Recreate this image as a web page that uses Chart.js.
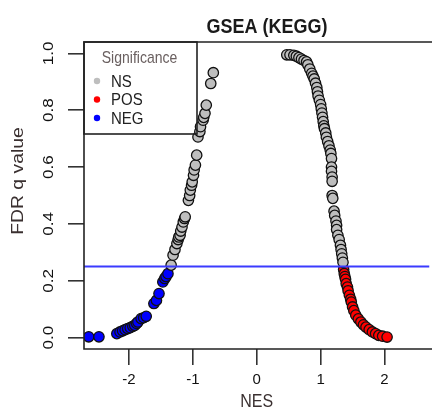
<!DOCTYPE html>
<html>
<head>
<meta charset="utf-8">
<script src="https://cdn.jsdelivr.net/npm/chart.js@4"></script>
<style>
  html, body { margin: 0; padding: 0; background: #fff; overflow: hidden; width: 432px; height: 411px; }
  canvas { display: block; }
</style>
</head>
<body>
<canvas id="chart" width="436" height="411"></canvas>
<script>
// ---- data ----
const xTicks = [-2, -1, 0, 1, 2]
const yTicks = [0.0, 0.2, 0.4, 0.6, 0.8, 1.0]
const fdrCutoff = 0.25
const xRange = [-2.704, 2.704]
const yRange = [-0.04, 1.04]

const legendLabels = ["NS", "POS", "NEG"]

const nsNes = [
  -1.34, -1.31, -1.28, -1.25, -1.23, -1.22, -1.20, -1.19, -1.17, -1.15, -1.13, -1.12,
  -1.07, -1.05, -1.04, -1.02, -1.01, -0.99, -0.98, -0.96, -0.94, -0.92, -0.89, -0.88,
  -0.84, -0.83, -0.81, -0.79, -0.72, -0.68,
  0.47, 0.52, 0.58, 0.62, 0.66, 0.70, 0.74, 0.78, 0.80, 0.83, 0.86, 0.88, 0.90, 0.92,
  0.94, 0.95, 0.96, 0.98, 1.00, 1.01, 1.02, 1.03, 1.04, 1.05, 1.06, 1.08, 1.09, 1.11,
  1.13, 1.15, 1.16, 1.17, 1.17, 1.17, 1.18, 1.18, 1.18, 1.19, 1.21, 1.22, 1.24, 1.25,
  1.25, 1.27, 1.29, 1.31, 1.32, 1.33, 1.34, 1.35,
]
const nsFdr = [
  0.255, 0.29, 0.31, 0.331, 0.345, 0.354, 0.36, 0.375, 0.389, 0.407, 0.419, 0.425,
  0.483, 0.50, 0.519, 0.536, 0.548, 0.571, 0.59, 0.607, 0.642, 0.706, 0.725, 0.742,
  0.765, 0.775, 0.789, 0.818, 0.894, 0.932,
  0.995, 0.995, 0.993, 0.99, 0.985, 0.98, 0.975, 0.97, 0.96, 0.945, 0.93, 0.92, 0.91, 0.895,
  0.88, 0.865, 0.85, 0.835, 0.82, 0.805, 0.79, 0.775, 0.76, 0.745, 0.735, 0.72, 0.705, 0.69,
  0.675, 0.66, 0.648, 0.63, 0.60, 0.585, 0.565, 0.55, 0.50, 0.49, 0.445, 0.43, 0.41, 0.395,
  0.38, 0.36, 0.345, 0.325, 0.31, 0.295, 0.28, 0.265,
]

const posNes = [
  1.36, 1.37, 1.38, 1.39, 1.40, 1.42, 1.43, 1.45, 1.47, 1.48, 1.50, 1.52,
  1.55, 1.59, 1.63, 1.67, 1.71, 1.76, 1.81, 1.86, 1.91, 1.97, 2.04,
]
const posFdr = [
  0.24, 0.225, 0.215, 0.205, 0.19, 0.178, 0.165, 0.149, 0.135, 0.125, 0.108, 0.095,
  0.079, 0.066, 0.055, 0.045, 0.037, 0.028, 0.02, 0.014, 0.008, 0.005, 0.002,
]

const negNes = [
  -2.63, -2.47, -2.19, -2.14, -2.10, -2.06, -2.02, -1.98, -1.94, -1.91, -1.88,
  -1.86, -1.81, -1.77, -1.73, -1.61, -1.57, -1.53, -1.47, -1.44, -1.42, -1.39,
]
const negFdr = [
  0.003, 0.003, 0.014, 0.02, 0.024, 0.028, 0.032, 0.035, 0.04, 0.043, 0.05,
  0.055, 0.067, 0.07, 0.075, 0.12, 0.131, 0.155, 0.196, 0.208, 0.215, 0.225,
]

const colours = { NS: "#bebebe", POS: "#ff0000", NEG: "#0000ff" }
const fontFamily = "'Liberation Sans', Arial, sans-serif"
// the reference picture is a little taller than wide, so text is stretched along y
const stretch = 1.14

const toPoints = (xs, ys) => xs.map((x, i) => ({ x, y: ys[i] }))

const pointSet = (label, xs, ys) => ({
  type: "scatter",
  label,
  data: toPoints(xs, ys),
  backgroundColor: colours[label],
  borderColor: "#111",
  borderWidth: 1.3,
  pointRadius: 5.2,
  pointHoverRadius: 5.2,
  order: 1,
})

const flatText = (ctx, text, x, y) => {
  ctx.save()
  ctx.translate(x, y)
  ctx.scale(1, stretch)
  ctx.fillText(text, 0, 0)
  ctx.restore()
}

const upText = (ctx, text, x, y) => {
  ctx.save()
  ctx.translate(x, y)
  ctx.rotate(-Math.PI / 2)
  ctx.scale(stretch, 1)
  ctx.fillText(text, 0, 0)
  ctx.restore()
}

// R-style frame, titles, rotated y labels and legend
const decorations = {
  id: "decorations",
  afterDraw(chart) {
    const { ctx, chartArea: a, scales, width } = chart
    ctx.save()

    ctx.strokeStyle = "#222"
    ctx.lineWidth = 1.6
    ctx.beginPath()
    ctx.moveTo(width, a.top)
    ctx.lineTo(a.left, a.top)
    ctx.lineTo(a.left, a.bottom)
    ctx.lineTo(width, a.bottom)
    ctx.stroke()

    ctx.fillStyle = "#111"
    ctx.font = "15px " + fontFamily
    ctx.textAlign = "center"
    ctx.textBaseline = "middle"
    yTicks.forEach((v) => upText(ctx, v.toFixed(1), 49, scales.y.getPixelForValue(v)))

    ctx.fillStyle = "#3a3030"
    ctx.font = "17px " + fontFamily
    upText(ctx, "FDR q value", 18, 181)
    ctx.font = "16px " + fontFamily
    flatText(ctx, "NES", scales.x.getPixelForValue(0), 402)

    ctx.fillStyle = "#1a1a1a"
    ctx.font = "bold 18px " + fontFamily
    flatText(ctx, "GSEA (KEGG)", 267, 27)

    // legend
    const lw = 113
    const lh = 92
    ctx.strokeStyle = "#222"
    ctx.lineWidth = 1.6
    ctx.strokeRect(a.left, a.top, lw, lh)
    ctx.fillStyle = "#6a6060"
    ctx.font = "14px " + fontFamily
    flatText(ctx, "Significance", a.left + lw / 2 - 1, a.top + 17)
    legendLabels.forEach((lab, i) => {
      const cy = a.top + 39 + i * 18.5
      ctx.fillStyle = colours[lab]
      ctx.beginPath()
      ctx.arc(a.left + 13, cy, 3.2, 0, Math.PI * 2)
      ctx.fill()
      ctx.fillStyle = "#222"
      ctx.textAlign = "left"
      ctx.font = "15px " + fontFamily
      flatText(ctx, lab, a.left + 27, cy + 1)
      ctx.textAlign = "center"
    })

    ctx.restore()
  },
}

new Chart(document.getElementById("chart"), {
  data: {
    datasets: [
      {
        type: "line",
        label: "cutoff",
        data: [
          { x: xRange[0], y: fdrCutoff },
          { x: xRange[1], y: fdrCutoff },
        ],
        borderColor: "#3b3bff",
        borderWidth: 2,
        pointRadius: 0,
        order: 0,
      },
      pointSet("NS", nsNes, nsFdr),
      pointSet("POS", posNes, posFdr),
      pointSet("NEG", negNes, negFdr),
    ],
  },
  options: {
    responsive: false,
    animation: false,
    layout: { padding: { top: 42, right: 1, left: 0, bottom: 0 } },
    plugins: {
      legend: { display: false },
      tooltip: { enabled: false },
    },
    scales: {
      x: {
        type: "linear",
        min: xRange[0],
        max: xRange[1],
        afterBuildTicks: (s) => { s.ticks = xTicks.map((value) => ({ value })) },
        afterFit: (s) => {
          s.height = 62
          s.paddingLeft = 0
          s.paddingRight = 0
        },
        border: { display: false },
        grid: {
          drawOnChartArea: false,
          drawTicks: true,
          tickLength: 16,
          tickColor: "#333",
          lineWidth: 1.6,
        },
        ticks: {
          padding: 6,
          color: "#111",
          font: { family: fontFamily, size: 15 },
          callback: (v) => String(v),
        },
      },
      y: {
        type: "linear",
        min: yRange[0],
        max: yRange[1],
        afterBuildTicks: (s) => { s.ticks = yTicks.map((value) => ({ value })) },
        afterFit: (s) => {
          s.width = 84
          s.paddingTop = 0
          s.paddingBottom = 0
        },
        border: { display: false },
        grid: {
          drawOnChartArea: false,
          drawTicks: true,
          tickLength: 16,
          tickColor: "#333",
          lineWidth: 1.6,
        },
        ticks: { display: false },
      },
    },
  },
  plugins: [decorations],
})
</script>
</body>
</html>
